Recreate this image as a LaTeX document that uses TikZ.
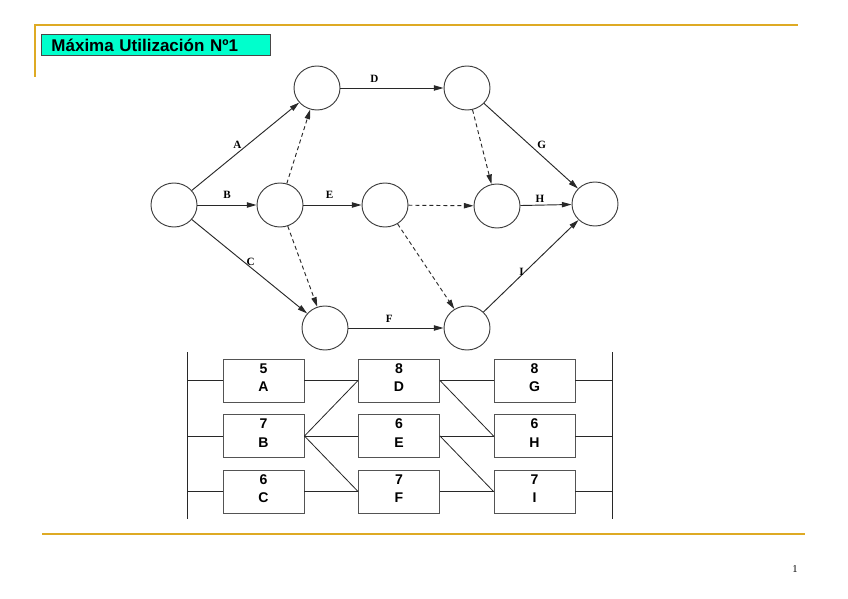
\documentclass[tikz,border=0pt]{standalone}
\usepackage{fontspec}
\setmainfont{Liberation Serif}
\setsansfont{Liberation Sans}
\usetikzlibrary{shapes.geometric, arrows.meta, positioning, calc}
\definecolor{cGold}{RGB}{222,170,36}
\definecolor{cAqua}{RGB}{0,255,204}
\definecolor{cLine}{RGB}{40,40,40}
\tikzset{
	event/.style   ={ellipse, draw=cLine!90, line width=0.8pt, minimum width=1.38cm, minimum height=1.32cm, inner sep=0pt},
	task/.style    ={-{Triangle[length=2.9mm,width=1.6mm]}, draw=cLine, line width=0.8pt},
	dummy/.style   ={task, dash pattern=on 1.2mm off 0.9mm},
	tlabel/.style  ={font=\fontsize{9.5}{10}\selectfont\bfseries, inner sep=1pt},
	% activity-on-node boxes
	actbox/.style  ={rectangle, draw=cLine!80, line width=0.8pt, minimum width=2.43cm, minimum height=1.29cm, align=center, inner sep=0pt, font=\sffamily\bfseries\fontsize{12}{16}\selectfont},
	link/.style    ={draw=cLine, line width=0.7pt},
	% slide frame
	rule/.style    ={cGold, line width=1.7pt},
	titlebox/.style={rectangle, draw=cLine!85, fill=cAqua, line width=0.8pt, minimum width=6.87cm, minimum height=0.63cm, text width=6.27cm, inner xsep=0.3cm, inner ysep=0pt, align=left, font=\sffamily\bfseries\fontsize{14.5}{15}\selectfont},
}

\begin{document}
\begin{tikzpicture}[x=0.03cm, y=-0.03cm]
	\useasboundingbox (0,0) rectangle (848,599);
	% frame
	\draw[rule] (35,77) -- (35,25) -- (798,25);
	\draw[rule] (42,534) -- (805,534);
	\node[titlebox, anchor=north west] (title) at (41,34) {Máxima Utilización Nº1};
	\node[font=\fontsize{9}{10}\selectfont] (page) at (795,569) {1};
	% network
	\node[event] (n1) at (174,205) {};
	\node[event] (n2) at (317,88) {};
	\node[event] (n3) at (280,205) {};
	\node[event] (n4) at (385,205) {};
	\node[event] (n5) at (467,88) {};
	\node[event] (n6) at (497,206) {};
	\node[event] (n7) at (595,204) {};
	\node[event] (n8) at (325,328) {};
	\node[event] (n9) at (467,328) {};
	\draw[task] (n1) -- node[tlabel, above left=-1pt, pos=0.47] {A} (n2);
	\draw[task] (n1) -- node[tlabel, above=4pt] {B} (n3);
	\draw[task] (n1) -- node[tlabel, right=1pt, pos=0.45] {C} (n8);
	\draw[task] (n2) -- node[tlabel, above=3pt, pos=0.33] {D} (n5);
	\draw[task] (n3) -- node[tlabel, above=4pt, pos=0.45] {E} (n4);
	\draw[task] (n8) -- node[tlabel, above=3pt, pos=0.43] {F} (n9);
	\draw[task] (n5) -- node[tlabel, above right=0pt, pos=0.55] {G} (n7);
	\draw[task] (n6) -- node[tlabel, above=1pt, pos=0.38] {H} (n7);
	\draw[task] (n9) -- node[tlabel, left=0pt, pos=0.44] {I} (n7);
	\draw[dummy] (n3) -- (n2);
	\draw[dummy] (n3) -- (n8);
	\draw[dummy] (n4) -- (n6);
	\draw[dummy] (n4) -- (n9);
	\draw[dummy] (n5) -- (n6);
	% activity-on-node chart
	\coordinate (lbarT) at (187,352);
	\coordinate (lbarB) at (187,519);
	\coordinate (rbarT) at (612,352);
	\coordinate (rbarB) at (612,519);
	\draw[link] (lbarT) -- (lbarB) (rbarT) -- (rbarB);
	\foreach \nm/\dur/\col/\row in {A/5/1/1, B/7/1/2, C/6/1/3, D/8/2/1, E/6/2/2, F/7/2/3, G/8/3/1, H/6/3/2, I/7/3/3}
		\node[actbox] (b\nm) at ({128+135.5*\col},{325+55.5*\row}) {\dur\\\nm\strut};
	\foreach \a/\b/\c in {A/D/G, B/E/H, C/F/I}
		\draw[link] (b\a.west -| lbarT) -- (b\a.west) (b\a.east) -- (b\b.west)
			(b\b.east) -- (b\c.west) (b\c.east) -- (b\c.east -| rbarT);
	\draw[link] (bB.east) -- (bD.west) (bB.east) -- (bF.west)
		(bD.east) -- (bH.west) (bE.east) -- (bI.west);
\end{tikzpicture}
\end{document}
